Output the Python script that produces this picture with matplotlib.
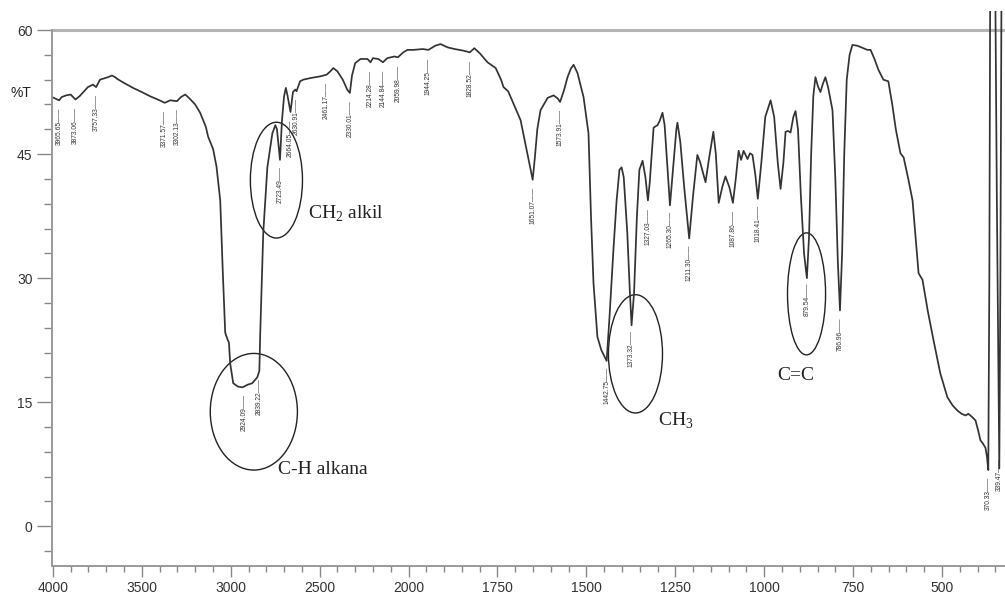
import numpy as np
import matplotlib
matplotlib.use('Agg')
import matplotlib.pyplot as plt
from matplotlib.patches import Ellipse
from matplotlib.ticker import FixedLocator

plt.rcParams['font.family'] = 'Liberation Sans'
plt.rcParams['mathtext.fontset'] = 'custom'
plt.rcParams['mathtext.rm'] = 'Liberation Serif'

# FTIR spectrum: wavenumber (cm-1) and transmittance (%T)
wavenumber = [
    4005, 3985, 3965, 3950, 3925, 3900, 3873, 3850, 3803, 3775, 3757, 3735,
    3690, 3668, 3650, 3639, 3600, 3549, 3500, 3454, 3400, 3371, 3340, 3302,
    3280, 3256, 3235, 3200, 3172, 3140, 3127, 3099, 3080, 3059, 3045, 3031,
    3018, 3010, 3003, 2986, 2960, 2935, 2924, 2907, 2879, 2851, 2839, 2834,
    2817, 2794, 2766, 2749, 2740, 2723, 2712, 2700, 2690, 2680, 2664, 2650,
    2637, 2630, 2610, 2592, 2550, 2496, 2461, 2440, 2423, 2400, 2370, 2345,
    2330, 2318, 2300, 2270, 2231, 2214, 2200, 2170, 2144, 2120, 2080, 2060,
    2030, 2006, 1986, 1960, 1944, 1925, 1910, 1890, 1870, 1845, 1828, 1815,
    1800, 1778, 1755, 1740, 1733, 1720, 1713, 1700, 1685, 1668, 1651, 1645,
    1638, 1629, 1609, 1592, 1580, 1574, 1563, 1553, 1544, 1536, 1525, 1508,
    1494, 1487, 1480, 1469, 1458, 1443, 1435, 1424, 1415, 1407, 1401, 1395,
    1385, 1378, 1373, 1366, 1358, 1351, 1342, 1334, 1327, 1322, 1311, 1300,
    1294, 1286, 1280, 1265, 1255, 1247, 1244, 1236, 1225, 1211, 1200, 1188,
    1180, 1165, 1155, 1143, 1136, 1128, 1118, 1109, 1098, 1088, 1080, 1072,
    1065, 1058, 1047, 1040, 1033, 1025, 1018, 1008, 997, 982, 972, 962, 954,
    946, 940, 933, 926, 918, 912, 905, 897, 888, 880, 874, 868, 862, 856, 849,
    842, 835, 828, 820, 808, 800, 793, 787, 781, 775, 768, 760, 752, 738, 721,
    710, 701, 690, 679, 665, 651, 640, 630, 617, 608, 595, 583, 566, 555, 540,
    524, 505, 485, 470, 457, 445, 434, 426, 415, 406, 398, 392, 385, 378, 374,
    370, 367, 364, 352, 346, 339, 336, 332, 320,
]
transmittance = [
    51.9, 51.7, 51.5, 51.9, 52.1, 52.2, 51.6, 52.0, 53.1, 53.4, 53.1, 54.0,
    54.3, 54.5, 54.3, 54.1, 53.6, 53.0, 52.5, 52.0, 51.5, 51.2, 51.5, 51.4,
    51.9, 52.2, 51.8, 51.0, 50.0, 48.3, 47.1, 45.6, 43.5, 39.4, 31.0, 23.4,
    22.6, 22.2, 19.7, 17.3, 16.9, 16.8, 16.9, 17.1, 17.3, 18.0, 18.8, 23.4,
    35.5, 43.4, 47.5, 48.5, 48.0, 44.3, 49.0, 52.0, 53.0, 52.0, 50.1, 52.5,
    52.8, 52.6, 53.8, 54.0, 54.2, 54.4, 54.6, 55.0, 55.4, 55.0, 54.0, 52.8,
    52.4, 54.5, 56.0, 56.5, 56.5, 56.1, 56.6, 56.5, 56.1, 56.6, 56.8, 56.7,
    57.3, 57.6, 57.6, 57.7, 57.6, 58.1, 58.3, 57.9, 57.7, 57.5, 57.3, 57.8,
    57.2, 56.1, 55.4, 54.0, 53.1, 52.6, 51.9, 50.6, 49.1, 45.5, 41.9, 44.5,
    48.0, 50.3, 51.8, 52.1, 51.7, 51.3, 52.7, 54.3, 55.3, 55.8, 54.8, 51.9,
    47.5, 37.4, 29.4, 22.9, 21.3, 20.0, 25.3, 33.4, 39.4, 43.1, 43.4, 42.2,
    35.5, 28.6, 24.3, 28.2, 37.4, 43.1, 44.2, 42.2, 39.4, 41.5, 48.2, 48.5,
    49.0, 50.0, 48.5, 38.8, 44.0, 48.0, 48.8, 46.5, 41.0, 34.8, 40.0, 44.9,
    44.0, 41.6, 44.5, 47.7, 45.0, 39.1, 41.0, 42.3, 41.0, 39.1, 42.0, 45.4,
    44.3, 45.4, 44.4, 45.1, 44.9, 42.5, 39.6, 44.0, 49.5, 51.5, 49.5, 44.0,
    40.8, 44.0, 47.7, 47.8, 47.6, 49.5, 50.2, 48.0, 40.0, 33.0, 30.0, 35.0,
    45.0, 52.0, 54.3, 53.2, 52.5, 53.5, 54.3, 53.0, 50.3, 42.0, 32.0, 26.1,
    33.0, 45.0, 54.0, 57.0, 58.2, 58.1, 57.8, 57.6, 57.6, 56.5, 55.2, 54.0,
    53.8, 51.0, 48.0, 45.1, 44.6, 42.0, 39.4, 30.6, 29.8, 26.0, 22.5, 18.5,
    15.6, 14.6, 14.0, 13.6, 13.4, 13.6, 13.2, 12.8, 11.5, 10.4, 10.0, 9.5,
    8.5, 6.8, 30.0, 75.0, 75.0, 40.0, 7.0, 30.0, 75.0, 75.0,
]

# peak positions printed by the instrument software
peak_labels = [
    '3965.65', '3873.06', '3757.33', '3371.57', '3302.13', '2924.09',
    '2839.22', '2723.49', '2664.05', '2630.91', '2461.17', '2330.01',
    '2214.28', '2144.84', '2059.98', '1944.25', '1828.52', '1651.07',
    '1573.91', '1442.75', '1373.32', '1327.03', '1265.30', '1211.30',
    '1087.86', '1018.41', '879.54', '786.96', '370.33', '339.47',
]

# functional group assignments
group_names = ['C-H alkana', 'CH$_2$ alkil', 'CH$_3$', 'C=C']

x_major = [4000, 3500, 3000, 2500, 2000, 1750, 1500, 1250, 1000, 750, 500]
y_major = [0, 15, 30, 45, 60]


# below 2000 cm-1 the axis is stretched twice, as the spectrometer prints it
def forward(w):
    w = np.asarray(w, dtype=float)
    return np.where(w >= 2000, w, 2 * w - 2000)


def inverse(u):
    u = np.asarray(u, dtype=float)
    return np.where(u >= 2000, u, (u + 2000) / 2)


fig = plt.figure(figsize=(10.05, 5.94), dpi=100)
ax = fig.add_axes([52 / 1005, 28 / 594, 953 / 1005, 555 / 594])
ax.set_xscale('function', functions=(forward, inverse))
ax.set_xlim(4005, 323)
ax.set_ylim(-4.8, 62.3)

ax.plot(wavenumber, transmittance, color='#333333', lw=1.25)
ax.axhline(60, color='#b4b4b4', lw=2.2, zorder=1)

# peak labels hang just below each band
w_arr = np.array(wavenumber, dtype=float)[::-1]
t_arr = np.array(transmittance, dtype=float)[::-1]
for lab in peak_labels:
    w = float(lab)
    t = np.interp(w, w_arr, t_arr)
    ax.text(w, t - 0.9, lab + '\u2014\u2014', rotation=90, ha='center',
            va='top', fontsize=4.8, color='#333')

# group assignment ellipses and captions
ellipses = [(2870, 13.85, 490, 14.1), (2743, 41.85, 293, 14.0),
            (1362, 20.85, 152, 14.3), (881, 28.1, 107, 14.75)]
captions = [(2732, 6.9), (2563, 37.75), (1300, 12.7), (963, 18.2)]
for (cx, cy, ew, eh), (tx, ty), name in zip(ellipses, captions, group_names):
    ax.add_patch(Ellipse((cx, cy), ew, eh, fill=False, ec='#222', lw=1.0))
    ax.text(tx, ty, name, family='Liberation Serif', fontsize=14,
            color='#222', ha='left', va='center')

# axes styling
for side in ['top', 'right']:
    ax.spines[side].set_visible(False)
for side in ['left', 'bottom']:
    ax.spines[side].set_color('#999')
    ax.spines[side].set_linewidth(1.4)
ax.spines['left'].set_bounds(-4.8, 60)

x_minor = [w for w in range(3900, 2000, -100) if w % 500]
x_minor += [w for w in range(1950, 340, -50) if w % 250]
ax.xaxis.set_major_locator(FixedLocator(x_major))
ax.xaxis.set_minor_locator(FixedLocator(x_minor))
ax.set_xticklabels([str(v) for v in x_major])
ax.yaxis.set_major_locator(FixedLocator(y_major))
ax.yaxis.set_minor_locator(FixedLocator([v for v in range(-3, 61, 3) if v % 15]))
ax.set_yticklabels([str(v) for v in y_major])

ax.tick_params(axis='both', which='both', color='#888', width=1.0,
               labelsize=10, labelcolor='#333', pad=3)
ax.tick_params(axis='y', which='major', length=11)
ax.tick_params(axis='y', which='minor', length=6)
ax.tick_params(axis='x', which='major', length=8)
ax.tick_params(axis='x', which='minor', length=4.5)

fig.text(10 / 1005, 1 - 93 / 594, '%T', fontsize=10, color='#222',
         ha='left', va='center')

fig.savefig('out.png', dpi=100)
